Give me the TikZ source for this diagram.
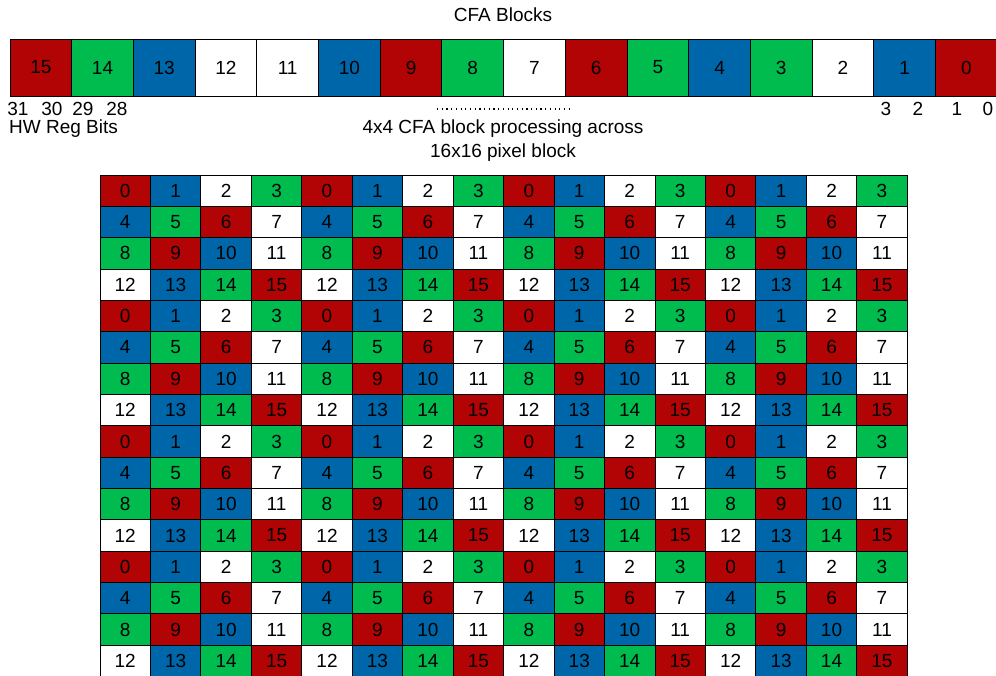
\documentclass[tikz,border=0pt]{standalone}
\usepackage{fontspec}
\setmainfont{Liberation Sans}
\definecolor{cr}{RGB}{178,4,4}
\definecolor{cg}{RGB}{0,188,78}
\definecolor{cb}{RGB}{0,102,170}
\colorlet{c0}{cr}\colorlet{c1}{cb}\colorlet{c2}{white}\colorlet{c3}{cg}
\colorlet{c4}{cb}\colorlet{c5}{cg}\colorlet{c6}{cr}\colorlet{c7}{white}
\colorlet{c8}{cg}\colorlet{c9}{cr}\colorlet{c10}{cb}\colorlet{c11}{white}
\colorlet{c12}{white}\colorlet{c13}{cb}\colorlet{c14}{cg}\colorlet{c15}{cr}
\begin{document}
\begin{tikzpicture}[x=1pt,y=1pt,
  txt/.style={font=\fontsize{19}{22}\selectfont, inner sep=0pt},
  topcell/.style={draw=black, line width=0.9pt, minimum width=61.7pt, minimum height=57pt, inner sep=0pt, outer sep=0pt, font=\fontsize{19}{22}\selectfont},
  gridcell/.style={draw=black, line width=0.9pt, minimum width=50.45pt, minimum height=31.35pt, inner sep=0pt, outer sep=0pt, font=\fontsize{19}{22}\selectfont}]
\useasboundingbox (0,0) rectangle (996,675);
\clip (0,0) rectangle (996,675);
% top register row
\foreach \i in {0,...,15}{
  \pgfmathtruncatemacro{\k}{15-\i}
  \node[topcell, fill=c\k] (t\k) at ({10+61.7*(\i+0.5)}, 607.5) {\k};
}
\node[txt] (title) at (503,660) {CFA Blocks};
\node[txt] (b31) at (18,566) {31};
\node[txt] (b30) at (52,566) {30};
\node[txt] (b29) at (83,566) {29};
\node[txt] (b28) at (117,566) {28};
\node[txt] (b3) at (886,566) {3};
\node[txt] (b2) at (918,566) {2};
\node[txt] (b1) at (957,566) {1};
\node[txt] (b0) at (988,566) {0};
\node[txt, anchor=west] (hw) at (9,546) {HW Reg Bits};
\coordinate (d1) at (437,566);
\coordinate (d2) at (572,566);
\draw[line width=1.2pt, dash pattern=on 1.2pt off 3.5pt] (d1) -- (d2);
\node[txt] (cap1) at (503,546) {4x4 CFA block processing across};
\node[txt] (cap2) at (503,522) {16x16 pixel block};
% 16x16 grid
\foreach \r in {0,...,15}{
  \foreach \c in {0,...,15}{
    \pgfmathtruncatemacro{\k}{mod(\r,4)*4+mod(\c,4)}
    \node[gridcell, fill=c\k] (g\r-\c) at ({100+50.45*(\c+0.5)}, {675-(175+31.35*(\r+0.5))}) {\k};
  }
}
\end{tikzpicture}
\end{document}
